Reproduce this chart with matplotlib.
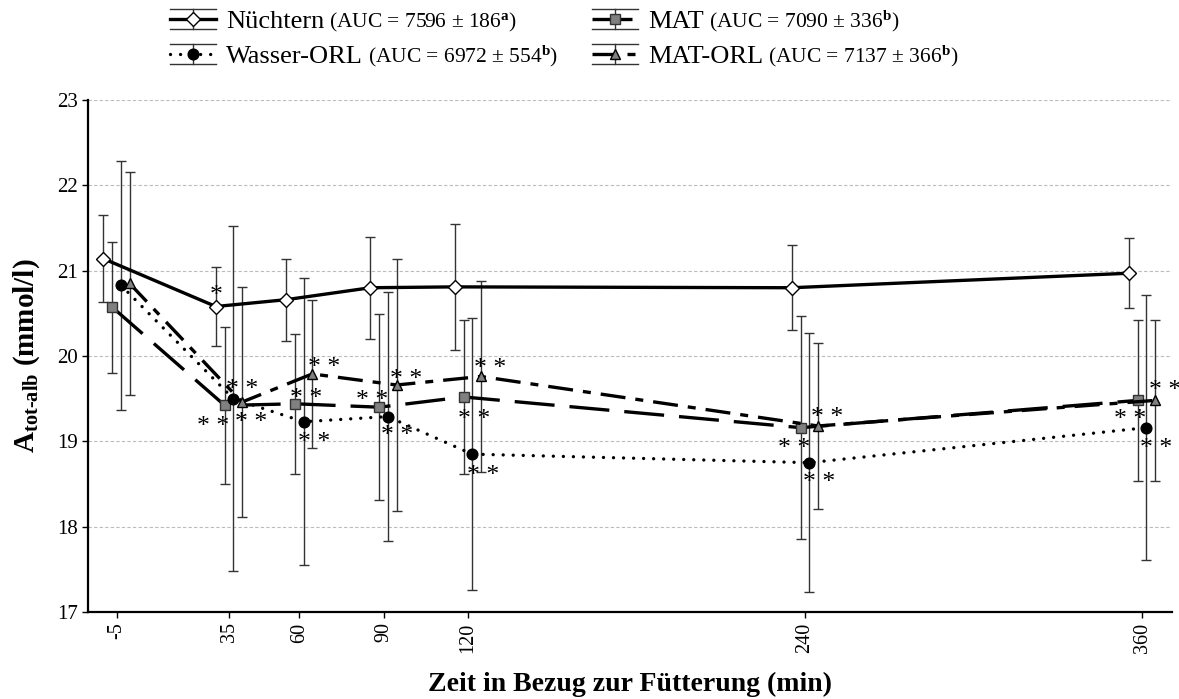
import matplotlib
matplotlib.use("Agg")
import matplotlib.pyplot as plt
from matplotlib.lines import Line2D
import numpy as np

plt.rcParams["font.family"] = ["Liberation Serif", "DejaVu Serif"]
plt.rcParams["mathtext.fontset"] = "custom"
plt.rcParams["mathtext.rm"] = "Liberation Serif"
plt.rcParams["mathtext.bf"] = "Liberation Serif:bold"
plt.rcParams["mathtext.it"] = "Liberation Serif:italic"

# ---------------------------------------------------------------------------
# Daten
# ---------------------------------------------------------------------------
TIME = [-5, 35, 60, 90, 120, 240, 360]
TICK_LABELS = ["-5", "35", "60", "90", "120", "240", "360"]

NUECHTERN = [21.14, 20.58, 20.66, 20.80, 20.81, 20.80, 20.97]
NUECHTERN_SD = [0.51, 0.46, 0.48, 0.60, 0.74, 0.50, 0.41]
MAT = [20.57, 19.42, 19.44, 19.40, 19.52, 19.16, 19.48]
MAT_SD = [0.77, 0.92, 0.82, 1.09, 0.90, 1.31, 0.94]
WASSER = [20.83, 19.50, 19.23, 19.29, 18.85, 18.75, 19.16]
WASSER_SD = [1.46, 2.02, 1.68, 1.46, 1.59, 1.52, 1.55]
MATORL = [20.85, 19.46, 19.79, 19.66, 19.76, 19.18, 19.48]
MATORL_SD = [1.31, 1.35, 0.87, 1.48, 1.12, 0.97, 0.94]

NAMES = ["Nüchtern", "MAT", "Wasser-ORL", "MAT-ORL"]
AUC = [r"(AUC = 7596 ± 186$^{\mathbf{a}}$)",
       r"(AUC = 7090 ± 336$^{\mathbf{b}}$)",
       r"(AUC = 6972 ± 554$^{\mathbf{b}}$)",
       r"(AUC = 7137 ± 366$^{\mathbf{b}}$)"]

# Signifikanzsterne: (Serie, Zeitindex, Text, dx, dy in Pixel, y nach unten)
STARS = [
    (0, 1, "*", 0, -17),
    (1, 1, "* *", -12, 15), (2, 1, "* *", 18, 17), (3, 1, "* *", 0, -19),
    (1, 2, "* *", 11, -12), (2, 2, "* *", 11, 14), (3, 2, "* *", 12, -13),
    (1, 3, "* *", -7, -13), (2, 3, "* *", 9, 13), (3, 3, "* *", 10, -12),
    (1, 4, "* *", 10, 16), (2, 4, "* *", 11, 15), (3, 4, "* *", 9, -14),
    (1, 5, "* *", -7, 14), (2, 5, "* *", 10, 13), (3, 5, "* *", 9, -15),
    (1, 6, "* *", -8, 13), (2, 6, "* *", 10, 14), (3, 6, "* *", 10, -16),
]

# ---------------------------------------------------------------------------
# Stil
# ---------------------------------------------------------------------------
LW = 2.4
STYLES = [
    dict(marker="D", ms=7.2, mfc="white", mec="black", ls="-", cap="butt", offset=-4.7),
    dict(marker="s", ms=7.7, mfc="#808080", mec="#333333", ls=(0, (12, 4.5)), cap="butt", offset=-1.5),
    dict(marker="o", ms=7.7, mfc="black", mec="black", ls=(0, (0.01, 3.0)), cap="round", offset=1.5),
    dict(marker="^", ms=7.8, mfc="#808080", mec="black", ls=(0, (7.5, 3, 2.4, 3)), cap="butt", offset=4.6),
]
SERIES = [(NUECHTERN, NUECHTERN_SD), (MAT, MAT_SD), (WASSER, WASSER_SD), (MATORL, MATORL_SD)]

W, H = 1179, 699
fig = plt.figure(figsize=(W / 100, H / 100), dpi=100)
ax = fig.add_axes([88 / W, 1 - 612 / H, (1172 - 88) / W, (612 - 100) / H])

xs_all = []
for (vals, sd), st in zip(SERIES, STYLES):
    x = np.array(TIME, dtype=float) + st["offset"]
    xs_all.append(x)
    ax.errorbar(x, vals, yerr=sd, fmt="none", ecolor="#333333",
                elinewidth=1.0, capsize=3.6, capthick=1.0, zorder=2)
    ax.plot(x, vals, color="black", lw=LW, ls=st["ls"], dash_capstyle=st["cap"],
            marker=st["marker"], ms=st["ms"], mfc=st["mfc"],
            mec=st["mec"], mew=1.0, zorder=3)

STAR_FS = 18.5
for si, ti, txt, dx, dy in STARS:
    vals = SERIES[si][0]
    ax.annotate(txt, (xs_all[si][ti], vals[ti]),
                xytext=(dx * 0.72, -dy * 0.72 - 0.5 * STAR_FS),
                textcoords="offset points", ha="center", va="baseline",
                fontsize=STAR_FS, zorder=4, annotation_clip=False)

ax.set_xlim(-15.2, 370.6)
ax.set_ylim(17, 23)
ax.set_xticks(TIME)
ax.set_xticklabels(TICK_LABELS, rotation=90, fontsize=14.5)
ax.set_yticks(range(17, 24))
ax.tick_params(axis="y", labelsize=15, length=4, width=1, direction="out")
ax.tick_params(axis="x", length=4, width=1, direction="out")
ax.yaxis.grid(True, ls=(0, (3, 2)), color="#bbbbbb", lw=0.8)
ax.set_axisbelow(True)
for s in ("top", "right"):
    ax.spines[s].set_visible(False)
for s in ("left", "bottom"):
    ax.spines[s].set_linewidth(1.6)

ax.set_xlabel("Zeit in Bezug zur Fütterung (min)", fontsize=20, fontweight="bold",
              va="center")
ax.xaxis.set_label_coords(0.5, (612 - 684) / 512)
ax.set_ylabel(r"A$_{\mathbf{tot}\text{-}\mathbf{alb}}$ (mmol/l)", fontsize=21,
              fontweight="bold", va="center")
ax.yaxis.set_label_coords((27 - 88) / 1084, 0.5)

# ---------------------------------------------------------------------------
# Legende (von Hand gezeichnet, Fehlerbalken-Symbol wie im Original)
# ---------------------------------------------------------------------------
NAME_FS = 19
AUC_FS = 15.5
ENTRIES = [(0, 170, 19), (2, 170, 54), (1, 592, 19), (3, 592, 54)]


def fx(px):
    return px / W


def fy(py):
    return 1 - py / H


fig.canvas.draw()
renderer = fig.canvas.get_renderer()
for i, x0, yc in ENTRIES:
    st = STYLES[i]
    x1 = x0 + 46
    xm = (x0 + x1) / 2
    for yy in (yc - 10, yc + 10):
        fig.add_artist(Line2D([fx(x0), fx(x1)], [fy(yy), fy(yy)],
                              color="#333333", lw=1.0, transform=fig.transFigure))
    fig.add_artist(Line2D([fx(xm), fx(xm)], [fy(yc - 10), fy(yc + 10)],
                          color="#333333", lw=1.0, transform=fig.transFigure))
    fig.add_artist(Line2D([fx(x0), fx(x1)], [fy(yc), fy(yc)], color="black",
                          lw=LW, ls=st["ls"], dash_capstyle=st["cap"],
                          transform=fig.transFigure))
    fig.add_artist(Line2D([fx(xm)], [fy(yc)], marker=st["marker"], ms=st["ms"],
                          mfc=st["mfc"], mec=st["mec"], mew=1.0, ls="none",
                          transform=fig.transFigure))
    base = yc + 0.33 * NAME_FS * 100 / 72
    t = fig.text(fx(x1 + 10), fy(base), NAMES[i], fontsize=NAME_FS,
                 ha="left", va="baseline")
    bb = t.get_window_extent(renderer)
    fig.text(fx(bb.x1 + 5), fy(base), AUC[i], fontsize=AUC_FS,
             ha="left", va="baseline")

fig.savefig("out.png", dpi=100)
